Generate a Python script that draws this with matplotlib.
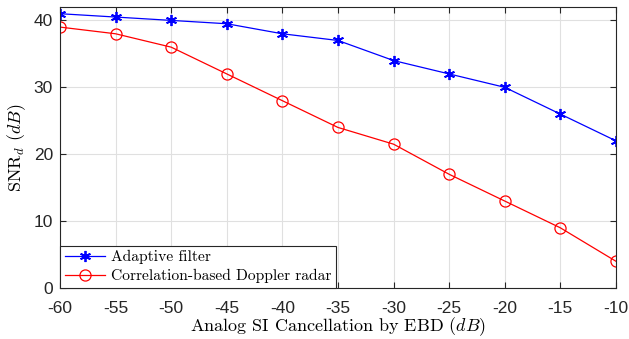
import matplotlib
matplotlib.use("Agg")
import matplotlib.pyplot as plt

x = [-60, -55, -50, -45, -40, -35, -30, -25, -20, -15, -10]
adaptive = [41, 40.5, 40, 39.5, 38, 37, 34, 32, 30, 26, 22]
correlation = [39, 38, 36, 32, 28, 24, 21.5, 17, 13, 9, 4]
xticks = [-60, -55, -50, -45, -40, -35, -30, -25, -20, -15, -10]
yticks = [0, 10, 20, 30, 40]

plt.rcParams['mathtext.fontset'] = 'cm'
plt.rcParams['axes.unicode_minus'] = False

fig = plt.figure(figsize=(6.29, 3.39), dpi=100)
ax = fig.add_axes([0.0954, 0.1504, 0.8838, 0.8289])

ax.plot(x, adaptive, color='blue', marker=(6, 2, 0), markersize=8, lw=0.9,
        markeredgewidth=1.3, label='Adaptive filter')
ax.plot(x, correlation, color='red', marker='o', markersize=8, lw=0.9,
        markerfacecolor='none', markeredgewidth=0.9,
        label='Correlation-based Doppler radar')

ax.set_xlim(-60, -10)
ax.set_ylim(0, 42)
ax.set_xticks(xticks)
ax.set_yticks(yticks)
ax.set_xticklabels([str(v) for v in xticks])
ax.grid(True, color='#e0e0e0', lw=0.8)
ax.set_axisbelow(True)
for s in ax.spines.values():
    s.set_color('#262626')
    s.set_linewidth(0.8)
ax.tick_params(direction='in', top=True, right=True, length=4, width=0.8,
               color='#262626', labelsize=12.5, labelcolor='#262626')
ax.tick_params(axis='x', pad=9.5)
ax.tick_params(axis='y', pad=5)
for lab in ax.get_xticklabels() + ax.get_yticklabels():
    lab.set_family('Liberation Sans')

ax.set_xlabel(r'Analog SI Cancellation by EBD $(dB)$', family='cmr10', fontsize=13, labelpad=-0.5)
ax.set_ylabel(r'SNR$_d$ $(dB)$', family='cmr10', fontsize=13, labelpad=4)

leg = ax.legend(loc='lower left', bbox_to_anchor=(0, 0), borderaxespad=0,
                fancybox=False, framealpha=1, edgecolor='#262626',
                prop={'family': 'cmr10', 'size': 11.2}, handlelength=2.6,
                borderpad=0.3, labelspacing=0.3, handletextpad=0.4)
leg.get_frame().set_linewidth(0.8)

fig.savefig('out.png', dpi=100)
